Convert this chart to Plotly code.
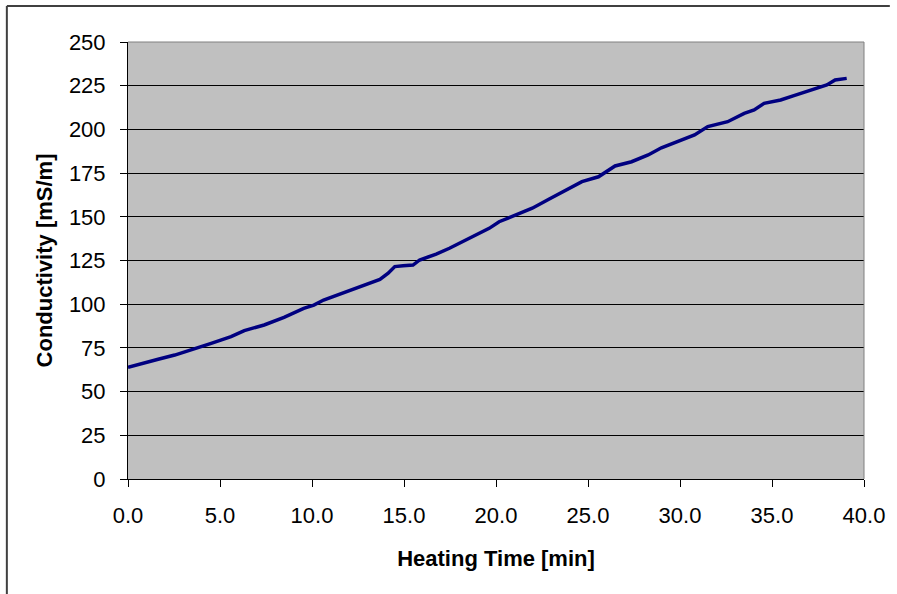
import plotly.graph_objects as go

# Heating time [min]
time_min = [0.0, 0.92, 1.64, 2.54, 3.44, 4.52, 5.6, 6.32, 7.4, 8.48, 9.55, 10.1,
            10.63, 11.71, 12.79, 13.69, 14.14, 14.5, 14.95, 15.49, 15.85, 16.75,
            17.47, 18.55, 19.63, 20.17, 21.07, 21.97, 22.87, 23.77, 24.67, 25.57,
            26.47, 27.37, 28.27, 28.99, 29.89, 30.79, 31.51, 32.59, 33.49, 34.03,
            34.57, 35.47, 36.19, 37.09, 37.98, 38.43, 39.06]
# Conductivity [mS/m]
conductivity = [63.9, 66.2, 68.5, 70.9, 73.8, 77.6, 81.4, 84.9, 88.1, 92.5, 97.6, 99.5,
                102.4, 106.6, 110.4, 114.2, 117.7, 121.5, 122.0, 122.4, 125.3, 128.7,
                132.0, 137.7, 143.4, 147.2, 151.0, 154.9, 160.0, 164.9, 170.1, 172.9,
                179.1, 181.5, 185.4, 189.5, 193.4, 196.8, 201.6, 204.4, 209.2, 211.1,
                214.9, 216.8, 219.3, 222.5, 225.4, 228.3, 229.2]

x_ticks = [0, 5, 10, 15, 20, 25, 30, 35, 40]
x_tick_labels = ["0.0", "5.0", "10.0", "15.0", "20.0", "25.0", "30.0", "35.0", "40.0"]
y_ticks = [0, 25, 50, 75, 100, 125, 150, 175, 200, 225, 250]

fig = go.Figure()
fig.add_trace(go.Scatter(
    x=time_min, y=conductivity, mode="lines",
    line=dict(color="#000080", width=3.5),
    showlegend=False, hoverinfo="x+y",
))

font = "Liberation Sans, Arial, sans-serif"

fig.update_layout(
    width=897, height=594,
    margin=dict(l=128, r=28, t=42, b=115),
    paper_bgcolor="white",
    plot_bgcolor="#C0C0C0",
    font=dict(family=font, size=22, color="black"),
    xaxis=dict(
        range=[0, 40], tickvals=x_ticks, ticktext=x_tick_labels,
        showgrid=False, zeroline=False,
        showline=True, linecolor="black", linewidth=1,
        ticks="outside", ticklen=7, tickcolor="black", tickwidth=1,
        tickfont=dict(family=font, size=22),
        ticklabelstandoff=10,
        title=dict(text="<b>Heating Time [min]</b>", font=dict(family=font, size=22), standoff=23),
    ),
    yaxis=dict(
        range=[0, 250], tickvals=y_ticks,
        showgrid=True, gridcolor="black", gridwidth=1,
        zeroline=False,
        showline=True, linecolor="black", linewidth=1,
        ticks="outside", ticklen=7, tickcolor="black", tickwidth=1,
        tickfont=dict(family=font, size=22),
        ticklabelstandoff=10,
        title=dict(text="<b>Conductivity [mS/m]</b>", font=dict(family=font, size=22), standoff=10),
    ),
    shapes=[
        # gray top and right border of plot area
        dict(type="line", xref="paper", yref="paper", x0=0, x1=1, y0=1, y1=1,
             line=dict(color="#808080", width=1), layer="above"),
        dict(type="line", xref="paper", yref="paper", x0=1, x1=1, y0=0, y1=1,
             line=dict(color="#808080", width=1), layer="above"),
        # outer chart frame (top and left edges)
        dict(type="line", xref="paper", yref="paper", x0=-0.1646, x1=1.0351, y0=1.0824, y1=1.0824,
             line=dict(color="#404040", width=2), layer="above"),
        dict(type="line", xref="paper", yref="paper", x0=-0.1646, x1=-0.1646, y0=-0.27, y1=1.0824,
             line=dict(color="#404040", width=2), layer="above"),
    ],
)

fig.write_html("out.html", config={"displayModeBar": False},
               post_script="document.body.style.margin='0px';")
